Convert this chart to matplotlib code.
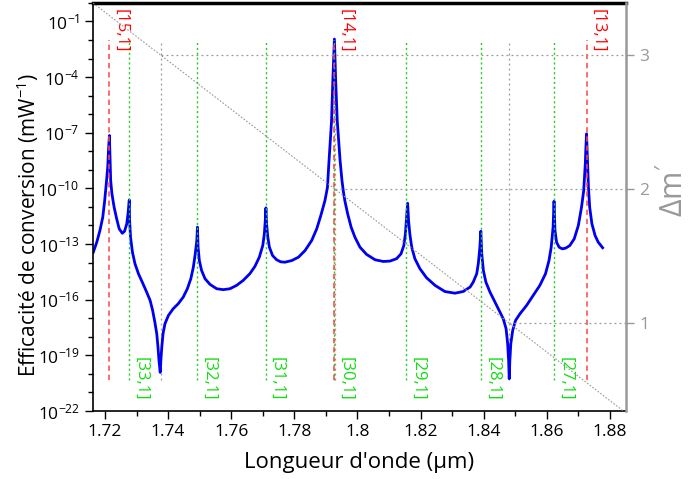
import numpy as np
import matplotlib
matplotlib.use("Agg")
import matplotlib.pyplot as plt
from matplotlib.ticker import FixedLocator, MultipleLocator, FuncFormatter, NullFormatter

plt.rcParams['font.family'] = ['Open Sans', 'DejaVu Sans']
plt.rcParams['mathtext.fontset'] = 'custom'
plt.rcParams['mathtext.rm'] = 'Open Sans'
plt.rcParams['mathtext.it'] = 'Open Sans:italic'
plt.rcParams['mathtext.default'] = 'regular'

# Conversion efficiency spectrum: wavelength (um) and log10 of efficiency (mW^-1)
wavelength = [
    # start -> [15,1]
    1.7163, 1.7174, 1.7184, 1.7193, 1.7199, 1.7205, 1.7209, 1.7211, 1.7214,
    # [15,1] -> [33,1]
    1.7216, 1.7218, 1.7222, 1.7229, 1.7237, 1.7245, 1.7255, 1.7262, 1.7269, 1.7273, 1.7277,
    # [33,1] -> dip
    1.7278, 1.7281, 1.7287, 1.7295, 1.7306, 1.7318, 1.7332, 1.7343, 1.7351, 1.7358,
    1.7364, 1.7368, 1.7371, 1.7375,
    # dip -> [32,1]
    1.7377, 1.7380, 1.7384, 1.7390, 1.7401, 1.7416, 1.7432, 1.7448, 1.7461, 1.7472,
    1.7480, 1.7486, 1.7491, 1.7493,
    # [32,1] -> [31,1]
    1.7495, 1.7499, 1.7506, 1.7517, 1.7533, 1.7554, 1.7575, 1.7596, 1.7617, 1.7638,
    1.7659, 1.7675, 1.7689, 1.7700, 1.7705, 1.7708, 1.7710,
    # [31,1] -> [14,1]
    1.7712, 1.7716, 1.7721, 1.7731, 1.7744, 1.7757, 1.7770, 1.7792, 1.7813, 1.7834,
    1.7855, 1.7871, 1.7884, 1.7897, 1.7905, 1.7910, 1.7918, 1.7922, 1.7927,
    # [14,1] -> [29,1]
    1.7931, 1.7936, 1.7945, 1.7951, 1.7955, 1.7960, 1.7969, 1.7980, 1.7992, 1.8008,
    1.8029, 1.8056, 1.8082, 1.8103, 1.8124, 1.8138, 1.8147, 1.8152, 1.8156, 1.8159,
    # [29,1] -> [28,1]
    1.8162, 1.8166, 1.8172, 1.8182, 1.8198, 1.8219, 1.8246, 1.8277, 1.8309, 1.8335,
    1.8357, 1.8367, 1.8378, 1.8383, 1.8388, 1.8391,
    # [28,1] -> dip
    1.8394, 1.8399, 1.8407, 1.8420, 1.8436, 1.8449, 1.8462, 1.8471, 1.8476, 1.8479, 1.8481,
    # dip -> [27,1]
    1.8483, 1.8486, 1.8492, 1.8501, 1.8515, 1.8536, 1.8557, 1.8578, 1.8596, 1.8607,
    1.8614, 1.8620, 1.8623,
    # [27,1] -> [13,1] -> end
    1.8626, 1.8631, 1.8639, 1.8649, 1.8660, 1.8673, 1.8687, 1.8700, 1.8710, 1.8717,
    1.8722, 1.8724, 1.8726, 1.8729, 1.8732, 1.8736, 1.8743, 1.8753, 1.8763, 1.8777,
]
log_efficiency = [
    -13.44, -12.90, -12.27, -11.55, -10.66, -9.58, -8.77, -7.96, -7.15,
    -8.34, -9.58, -10.29, -11.02, -11.64, -12.18, -12.42, -12.31, -11.91, -11.37, -10.62,
    -11.73, -12.63, -13.44, -14.06, -14.60, -15.05, -15.59, -16.04, -16.58, -17.21,
    -17.83, -18.56, -19.27, -19.92,
    -19.27, -18.56, -17.83, -17.30, -16.85, -16.49, -16.22, -15.86, -15.41, -14.87,
    -14.25, -13.53, -12.81, -12.09,
    -13.17, -13.89, -14.42, -14.87, -15.18, -15.41, -15.46, -15.41, -15.23, -14.96,
    -14.60, -14.21, -13.71, -13.08, -12.45, -11.73, -11.05,
    -11.91, -12.63, -13.17, -13.62, -13.85, -13.96, -13.98, -13.89, -13.71, -13.35,
    -12.81, -12.18, -11.46, -10.66, -9.94, -8.50, -6.35, -4.19, -1.95,
    -4.19, -6.35, -8.50, -9.58, -10.12, -10.66, -11.37, -12.09, -12.63, -13.17,
    -13.56, -13.85, -13.94, -13.92, -13.79, -13.53, -13.08, -12.45, -11.55, -10.80,
    -11.73, -12.45, -13.17, -13.79, -14.33, -14.82, -15.23, -15.56, -15.65, -15.56,
    -15.32, -15.05, -14.60, -14.06, -13.17, -12.31,
    -13.53, -14.42, -15.05, -15.59, -16.13, -16.58, -17.03, -17.56, -18.37, -19.27, -20.26,
    -19.27, -18.37, -17.66, -17.12, -16.76, -16.31, -15.77, -15.23, -14.60, -13.89,
    -13.17, -12.09, -10.69,
    -12.27, -12.90, -13.17, -13.26, -13.22, -13.08, -12.72, -12.00, -11.02, -10.12,
    -8.68, -7.79, -7.06, -8.50, -9.94, -11.02, -11.91, -12.54, -12.90, -13.20,
]

# Resonances (red) and modes (green)
resonance_wl = [1.7214, 1.7927, 1.8726]
resonance_labels = ['[15,1]', '[14,1]', '[13,1]']
mode_wl = [1.7277, 1.7493, 1.7709, 1.7927, 1.8154, 1.8391, 1.8623]
mode_labels = ['[33,1]', '[32,1]', '[31,1]', '[30,1]', '[29,1]', '[28,1]', '[27,1]']

# Delta m' (right axis)
dm_levels = [3, 2, 1]
dm_cross_wl = [1.7377, 1.7929, 1.8481]
dm_line_wl = [1.7162, 1.8851]
dm_line_val = [3.389, 0.330]

xmin, xmax = 1.7162, 1.8851

fig = plt.figure(figsize=(6.94, 4.79), dpi=100)
ax = fig.add_axes([0.134, 0.142, 0.768, 0.852])

ax.plot(wavelength, 10.0 ** np.array(log_efficiency), color='#0000f0', lw=2.0,
        zorder=2, solid_joinstyle='round')

line_span = dict(ymin=0.075, ymax=0.91)
for wl in dm_cross_wl:
    ax.axvline(wl, color='#999999', ls=(0, (1.5, 2.5)), lw=0.9, zorder=1, **line_span)
for wl, lab in zip(mode_wl, mode_labels):
    ax.axvline(wl, color='#22cc22', ls=(0, (1.5, 2)), lw=1.0, zorder=3, **line_span)
    ax.annotate(lab, xy=(wl, 0.132), xycoords=('data', 'axes fraction'),
                xytext=(2.5, 0), textcoords='offset points',
                rotation=270, ha='left', va='top', color='#11dd11', fontsize=12)
for wl, lab in zip(resonance_wl, resonance_labels):
    ax.axvline(wl, color='#ff4444', ls=(0, (3.5, 2.5)), lw=1.1, zorder=3, **line_span)
    ax.annotate(lab, xy=(wl, 0.985), xycoords=('data', 'axes fraction'),
                xytext=(2.5, 0), textcoords='offset points',
                rotation=270, ha='left', va='top', color='red', fontsize=12)

ax.set_xlim(xmin, xmax)
ax.set_yscale('log')
ax.set_ylim(1e-22, 1.0)
ax.yaxis.set_major_locator(FixedLocator(10.0 ** np.arange(-22, 0, 3)))
ax.yaxis.set_minor_locator(FixedLocator(10.0 ** np.arange(-22, 1)))
ax.yaxis.set_minor_formatter(NullFormatter())
ax.yaxis.set_major_formatter(FuncFormatter(
    lambda v, pos: '$10^{%d}$' % int(round(np.log10(v)))))
ax.xaxis.set_major_locator(MultipleLocator(0.02))
ax.xaxis.set_minor_locator(MultipleLocator(0.01))
ax.xaxis.set_major_formatter(FuncFormatter(lambda v, pos: '%g' % round(v, 2)))

ax.tick_params(which='major', direction='out', length=6, width=1, labelsize=12.5)
ax.tick_params(which='minor', direction='out', length=3.5, width=1)
ax.spines['right'].set_visible(False)
ax.spines['top'].set_linewidth(2.5)
for side in ('left', 'bottom'):
    ax.spines[side].set_linewidth(1.2)

ax.set_xlabel("Longueur d'onde (µm)", fontsize=16)
ax.set_ylabel('Efficacité de conversion (mW$^{-1}$)', fontsize=15)
ax.xaxis.set_label_coords(0.5, -0.1)
ax.yaxis.set_label_coords(-0.097, 0.455)

# Delta m' overlay
ax2 = ax.twinx()
ax2.set_ylim(0.345, 3.39)
ax2.plot(dm_line_wl, dm_line_val, color='#999999', ls=(0, (1.5, 1.5)), lw=0.8)
ax2.hlines(dm_levels, dm_cross_wl, xmax, color='#999999', ls=(0, (1.5, 2.5)), lw=0.9)
ax2.set_xlim(xmin, xmax)
ax2.yaxis.set_major_locator(FixedLocator(dm_levels))
ax2.tick_params(axis='y', colors='#999999', direction='out', length=6, width=1, labelsize=12.5)
for side in ('left', 'top', 'bottom'):
    ax2.spines[side].set_visible(False)
ax2.spines['right'].set_color('#999999')
ax2.spines['right'].set_linewidth(1.8)
ax2.set_ylabel(r"$\Delta m'$", color='#999999', fontsize=22, math_fontfamily='cm')
ax2.yaxis.set_label_coords(1.06, 0.54)

fig.savefig('out.png', dpi=100)
